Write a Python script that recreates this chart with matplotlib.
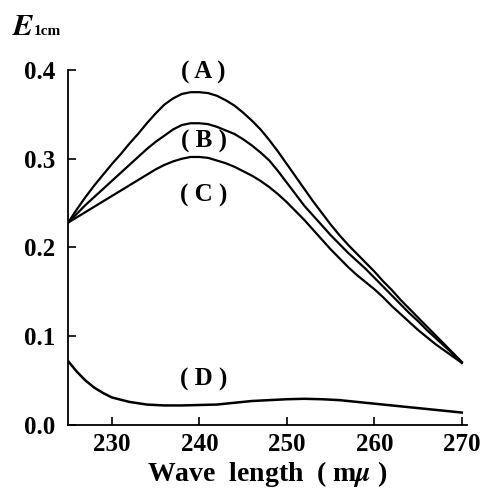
import matplotlib
matplotlib.use("Agg")
import matplotlib.pyplot as plt

# wavelength (m mu) and absorbance E(1cm)
wl = [225, 226, 227, 228, 229, 230, 231, 232, 233, 234, 235, 236, 237, 238, 239, 240,
      241, 242, 243, 244, 245, 246, 247, 248, 249, 250, 251, 252, 253, 254, 255, 256,
      257, 258, 259, 260, 261, 262, 263, 264, 265, 266, 267, 268, 269, 270]
curve_a = [0.228, 0.243, 0.257, 0.270, 0.282, 0.294, 0.305, 0.317, 0.328, 0.340, 0.351, 0.361,
           0.368, 0.373, 0.375, 0.375, 0.374, 0.371, 0.366, 0.360, 0.352, 0.343, 0.333, 0.321,
           0.308, 0.294, 0.280, 0.266, 0.252, 0.239, 0.226, 0.214, 0.203, 0.193, 0.183, 0.173,
           0.162, 0.152, 0.141, 0.131, 0.121, 0.111, 0.101, 0.091, 0.081, 0.071]
curve_b = [0.228, 0.238, 0.248, 0.257, 0.266, 0.275, 0.284, 0.293, 0.302, 0.311, 0.319, 0.326,
           0.333, 0.338, 0.340, 0.340, 0.339, 0.336, 0.332, 0.328, 0.322, 0.315, 0.307, 0.298,
           0.286, 0.273, 0.260, 0.247, 0.236, 0.225, 0.214, 0.204, 0.194, 0.185, 0.176, 0.166,
           0.156, 0.146, 0.136, 0.126, 0.117, 0.107, 0.098, 0.089, 0.080, 0.070]
curve_c = [0.228, 0.234, 0.240, 0.246, 0.252, 0.258, 0.264, 0.270, 0.276, 0.282, 0.288, 0.293,
           0.297, 0.300, 0.302, 0.302, 0.301, 0.298, 0.295, 0.291, 0.286, 0.281, 0.275, 0.268,
           0.260, 0.251, 0.241, 0.231, 0.220, 0.209, 0.198, 0.188, 0.178, 0.169, 0.161, 0.153,
           0.144, 0.134, 0.125, 0.116, 0.107, 0.099, 0.091, 0.084, 0.077, 0.070]

wl_d = [225, 226, 227, 228, 229, 230, 232, 234, 236, 238, 240, 242, 244, 246, 248,
        250, 252, 254, 256, 258, 260, 262, 264, 266, 268, 270]
curve_d = [0.072, 0.060, 0.050, 0.042, 0.036, 0.031, 0.026, 0.023, 0.022, 0.022, 0.0225, 0.023,
           0.025, 0.027, 0.028, 0.029, 0.0295, 0.029, 0.028, 0.026, 0.024, 0.022, 0.020,
           0.018, 0.016, 0.014]

labels = ["( A )", "( B )", "( C )", "( D )"]
label_pos = [(240.5, 0.397), (240.5, 0.319), (240.5, 0.259), (240.5, 0.051)]

xticks = [230, 240, 250, 260, 270]
yticks = [0.0, 0.1, 0.2, 0.3, 0.4]

plt.rcParams['font.family'] = ['Liberation Serif', 'DejaVu Serif']
plt.rcParams['font.weight'] = 'bold'
plt.rcParams['mathtext.fontset'] = 'stix'

fig = plt.figure(figsize=(4.83, 4.93), dpi=100)
ax = fig.add_axes([0.141, 0.138, 0.826, 0.720])

for y in (curve_a, curve_b, curve_c):
    ax.plot(wl, y, color='black', lw=1.6, solid_joinstyle='round')
ax.plot(wl_d, curve_d, color='black', lw=1.8, solid_joinstyle='round')

for txt, (x, y) in zip(labels, label_pos):
    ax.text(x, y, txt, ha='center', va='center', fontsize=18)

ax.set_xlim(225, 270.6)
ax.set_ylim(0, 0.4)
ax.spines['top'].set_visible(False)
ax.spines['right'].set_visible(False)
ax.spines['left'].set_linewidth(1.3)
ax.spines['bottom'].set_linewidth(1.3)

ax.set_xticks(xticks)
ax.set_xticklabels([str(t) for t in xticks])
ax.set_yticks(yticks)
ax.set_yticklabels(["%.1f" % t for t in yticks])
ax.tick_params(direction='in', length=6, width=1.2, labelsize=18)
ax.tick_params(axis='y', pad=9)
ax.tick_params(axis='x', pad=6)

ax.set_xlabel("Wave  length  ( m$\\mu$ )", fontsize=20, fontweight='bold', labelpad=2)

fig.text(0.025, 0.929, "$E$", fontsize=22, ha='left', va='baseline')
fig.text(0.070, 0.929, "1cm", fontsize=11, ha='left', va='baseline')

fig.savefig("out.png", dpi=100)
